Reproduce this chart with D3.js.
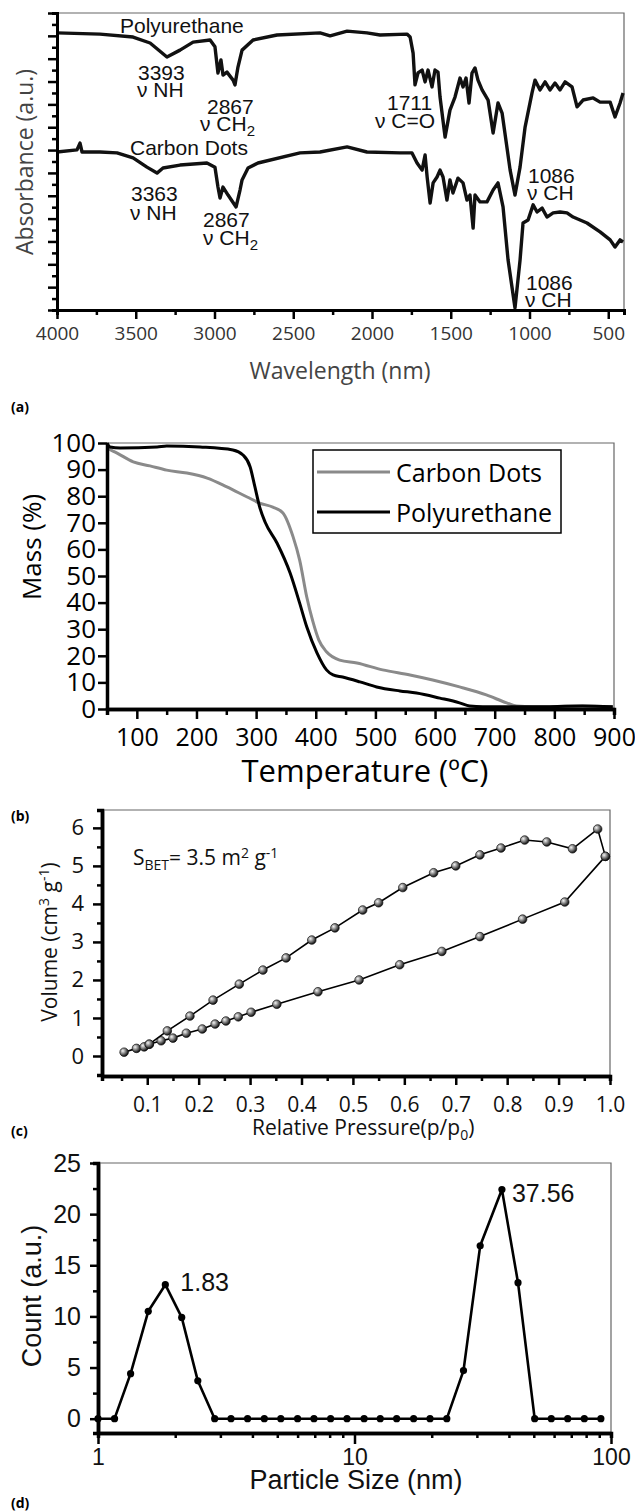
<!DOCTYPE html>
<html>
<head>
<meta charset="utf-8">
<script src="https://cdn.jsdelivr.net/npm/d3@7"></script>
<style>
  body { margin: 0; background: #fff; }
  svg { display: block; }
  .lib { font-family: "Liberation Sans", Arial, sans-serif; }
  .os { font-family: "Open Sans", "Noto Sans", sans-serif; }
</style>
</head>
<body>
<svg id="fig" width="635" height="1511"></svg>
<script>
// ---- (a) FTIR spectra: wavenumber vs absorbance (a.u., 0-100 of frame height)
var puWave = [4000,3727,3517,3409,3302,3219,3136,3028,2997,2978,2959,2946,2921,2882,2870,2851,2825,2755,2603,2330,2266,2158,2032,1949,1778,1758,1739,1727,1708,1682,1663,1644,1619,1600,1581,1568,1536,1505,1473,1441,1422,1403,1384,1365,1346,1327,1301,1263,1231,1200,1174,1123,1092,1060,1028,984,965,933,901,870,838,806,774,730,698,660,596,552,488,457,425,406];
var puAbs  = [93.3,92.9,91.9,89.9,85.2,87.5,90.2,90.9,88.6,79.8,84.2,79.1,80.1,77.4,75.8,81.8,87.5,90.9,92.6,93.3,92.3,93.9,93.3,92.6,92.9,91.9,86.5,75.8,79.8,80.8,76.8,80.8,75.1,80.8,80.1,71.7,58.2,67.3,71.7,78.1,75.1,78.1,69.7,79.8,81.5,77.4,74.1,70.7,59.6,69.7,66.3,47.1,38.7,48.1,61.6,73.1,77.4,74.1,76.8,74.1,76.4,74.1,76.8,75.1,68.4,70.7,71.4,70.0,70.0,65.0,69.7,73.1];
var cdWave = [4000,3873,3854,3841,3727,3619,3517,3429,3365,3327,3219,3048,2997,2978,2965,2946,2914,2863,2838,2825,2787,2724,2457,2330,2158,2032,1822,1746,1714,1682,1663,1650,1631,1612,1587,1568,1549,1524,1505,1486,1454,1422,1397,1378,1358,1346,1314,1270,1231,1200,1168,1136,1092,1060,1041,1009,977,952,920,889,850,806,762,723,635,552,488,457,425,406];
var cdAbs  = [53.2,53.9,56.2,53.2,53.2,52.9,51.2,48.1,46.1,47.8,48.8,49.5,48.1,41.4,37.7,41.4,38.7,34.7,40.4,43.8,47.8,49.5,52.9,53.2,54.9,53.2,52.9,52.9,49.5,47.1,52.2,44.8,36.0,42.8,44.8,47.1,44.8,37.0,43.8,39.4,44.4,42.8,37.0,38.7,27.6,38.7,36.4,36.4,40.4,42.8,34.7,16.8,0.7,16.8,29.3,30.3,35.4,33.0,34.3,31.3,32.7,33.0,32.7,31.3,29.3,26.3,23.6,21.2,23.6,22.9];
var ftirMajor = [4000,3500,3000,2500,2000,1500,1000,500];
var ftirMinor = [3750,3250,2750,2250,1750,1250,750];

// ---- (b) TGA: temperature (ºC) vs mass (%)
var tgaPuTemp = [50,55,72,134,150,206,261,278,290,298,306,315,335,357,373,385,402,418,429,445,474,502,541,569,608,641,658,680,764,847,898];
var tgaPuMass = [100,98.5,98.1,98.5,98.9,98.5,97.4,95.5,91.0,83.5,75.9,70.3,62.4,51.1,39.8,30.8,21.1,14.7,12.8,12.0,10.2,8.3,6.8,6.0,4.1,2.3,1.1,0.8,0.8,1.1,0.8];
var tgaCdTemp = [50,67,94,122,150,184,218,251,285,306,328,345,362,373,385,395,405,418,440,469,512,558,596,641,686,720,737,764,847,898];
var tgaCdMass = [98.1,96.2,92.9,91.4,89.8,88.7,86.8,83.5,79.7,77.4,75.9,73.7,64.7,56.0,42.0,33.0,26.0,21.5,18.4,17.3,14.7,12.8,10.9,8.3,5.3,2.3,1.1,0.8,1.1,0.8];

// ---- (c) N2 isotherm
var adsP = [0.055,0.079,0.094,0.104,0.127,0.150,0.176,0.207,0.232,0.253,0.277,0.302,0.352,0.432,0.512,0.591,0.673,0.747,0.830,0.912,0.991];
var adsV = [0.10,0.20,0.24,0.31,0.40,0.47,0.60,0.71,0.84,0.92,1.03,1.15,1.36,1.69,2.00,2.40,2.75,3.14,3.60,4.05,5.25];
var desP = [0.991,0.976,0.927,0.877,0.834,0.788,0.747,0.700,0.657,0.597,0.550,0.519,0.465,0.420,0.370,0.325,0.279,0.228,0.183,0.139,0.104];
var desV = [5.25,5.97,5.45,5.63,5.68,5.47,5.29,5.00,4.82,4.43,4.03,3.84,3.37,3.05,2.58,2.26,1.89,1.47,1.05,0.66,0.31];

// ---- (d) particle size distribution
var psdSize  = [1.00,1.16,1.34,1.57,1.83,2.12,2.45,2.85,3.30,3.83,4.45,5.16,6.00,6.95,8.07,9.35,10.9,12.6,14.6,17.0,19.7,22.9,26.6,30.9,37.56,43.4,50.4,58.5,67.8,78.7,91.3];
var psdCount = [0,0,4.4,10.5,13.1,9.9,3.7,0,0,0,0,0,0,0,0,0,0,0,0,0,0,0,4.7,16.9,22.4,13.3,0,0,0,0,0];

var svg = d3.select('#fig');

function zip(xs, ys){
    return xs.map(function(x, i){ return [x, ys[i]]; });
}

function styleAxis(g, domainW, tickW){
    g.select('.domain').attr('stroke', '#000').attr('stroke-width', domainW);
    g.selectAll('.tick line').attr('stroke', '#000').attr('stroke-width', tickW);
}

function frame(g, x0, y0, x1, y1){
    g.append('path')
        .attr('d', 'M' + x0 + ',' + y0 + 'H' + x1 + 'V' + y1)
        .attr('fill', 'none')
        .attr('stroke', '#666')
        .attr('stroke-width', 1.2);
}

// ===================== (a) =====================
(function(){
    var x = d3.scaleLinear().domain([4000, 400]).range([57, 624]);
    var y = d3.scaleLinear().domain([0, 100]).range([310, 13]);
    var g = svg.append('g');

    frame(g, 57, 13, 624, 310);

    var line = d3.line().x(function(d){ return x(d[0]); }).y(function(d){ return y(d[1]); });
    [zip(puWave, puAbs), zip(cdWave, cdAbs)].forEach(function(s){
        g.append('path').datum(s).attr('d', line)
            .attr('fill', 'none').attr('stroke', '#111')
            .attr('stroke-width', 3.4).attr('stroke-linejoin', 'round');
    });

    var yTicks = d3.range(0, 27).map(function(i){ return i * 100 / 26; });
    var gyMin = g.append('g').attr('transform', 'translate(57,0)')
        .call(d3.axisLeft(y).tickValues(yTicks.filter(function(d, i){ return i % 2; })).tickSize(5).tickFormat(''));
    styleAxis(gyMin, 3, 2.5);
    var gy = g.append('g').attr('transform', 'translate(57,0)')
        .call(d3.axisLeft(y).tickValues(yTicks.filter(function(d, i){ return !(i % 2); })).tickSize(9).tickSizeOuter(0).tickFormat(''));
    styleAxis(gy, 3, 2.5);

    var gxMin = g.append('g').attr('transform', 'translate(0,310)')
        .call(d3.axisBottom(x).tickValues(ftirMinor).tickSize(5).tickFormat(''));
    styleAxis(gxMin, 3, 2.5);
    var gx = g.append('g').attr('transform', 'translate(0,310)')
        .call(d3.axisBottom(x).tickValues(ftirMajor).tickSize(9).tickSizeOuter(0).tickPadding(8).tickFormat(d3.format('d')));
    styleAxis(gx, 3, 2.5);
    gx.selectAll('text').attr('class', 'os').attr('font-size', 19).attr('fill', '#333');

    g.append('text').attr('class', 'os').attr('x', 340).attr('y', 379)
        .attr('text-anchor', 'middle').attr('font-size', 23).attr('fill', '#444')
        .text('Wavelength (nm)');
    g.append('text').attr('class', 'os')
        .attr('transform', 'translate(33,162) rotate(-90)')
        .attr('text-anchor', 'middle').attr('font-size', 23).attr('fill', '#444')
        .text('Absorbance (a.u.)');

    var notes = [
        ['Polyurethane', 120, 33], ['3393', 138, 80], ['\u03bd NH', 137, 97],
        ['2867', 207, 114], ['\u03bd CH', 200, 131, '2'],
        ['Carbon Dots', 130, 155], ['3363', 131, 201], ['\u03bd NH', 130, 220],
        ['2867', 203, 227], ['\u03bd CH', 203, 245, '2'],
        ['1711', 387, 110], ['\u03bd C=O', 375, 128],
        ['1086', 528, 183], ['\u03bd CH', 527, 200],
        ['1086', 526, 290], ['\u03bd CH', 525, 307]
    ];
    notes.forEach(function(n){
        var t = g.append('text').attr('class', 'lib').attr('x', n[1]).attr('y', n[2])
            .attr('font-size', 21).attr('fill', '#111').text(n[0]);
        if (n[3]) t.append('tspan').attr('dy', 5).attr('font-size', 15).text(n[3]);
    });
})();

svg.append('text').attr('x', 11).attr('y', 412).attr('font-family', 'Open Sans')
    .attr('font-weight', 'bold').attr('font-size', 14).text('(a)');

// ===================== (b) =====================
(function(){
    var x = d3.scaleLinear().domain([50, 900]).range([107, 614]);
    var y = d3.scaleLinear().domain([0, 100]).range([709, 443]);
    var g = svg.append('g');

    frame(g, 107, 443, 614, 709);

    var line = d3.line().curve(d3.curveMonotoneX)
        .x(function(d){ return x(d[0]); }).y(function(d){ return y(d[1]); });
    g.append('path').datum(zip(tgaCdTemp, tgaCdMass)).attr('d', line)
        .attr('fill', 'none').attr('stroke', '#8a8a8a').attr('stroke-width', 3);
    g.append('path').datum(zip(tgaPuTemp, tgaPuMass)).attr('d', line)
        .attr('fill', 'none').attr('stroke', '#000').attr('stroke-width', 3);

    var gxMin = g.append('g').attr('transform', 'translate(0,709)')
        .call(d3.axisBottom(x).tickValues(d3.range(150, 900, 100)).tickSize(6).tickFormat(''));
    styleAxis(gxMin, 3.5, 2.5);
    var gx = g.append('g').attr('transform', 'translate(0,709)')
        .call(d3.axisBottom(x).tickValues(d3.range(100, 901, 100)).tickSize(10).tickSizeOuter(0).tickPadding(9));
    styleAxis(gx, 3.5, 2.5);
    gx.selectAll('text').attr('class', 'os').attr('font-size', 25).attr('fill', '#000');

    var gy = g.append('g').attr('transform', 'translate(107,0)')
        .call(d3.axisLeft(y).tickValues(d3.range(0, 101, 10)).tickSize(9).tickSizeOuter(0).tickPadding(2));
    styleAxis(gy, 3.5, 2.5);
    gy.selectAll('text').attr('class', 'os').attr('font-size', 26).attr('fill', '#000');

    g.append('text').attr('class', 'os').attr('x', 365).attr('y', 782)
        .attr('text-anchor', 'middle').attr('font-size', 31).text('Temperature (\u00baC)');
    g.append('text').attr('class', 'os')
        .attr('transform', 'translate(41,547) rotate(-90)')
        .attr('text-anchor', 'middle').attr('font-size', 26).text('Mass (%)');

    var lg = g.append('g');
    lg.append('rect').attr('x', 313).attr('y', 450).attr('width', 248).attr('height', 83)
        .attr('fill', '#fff').attr('stroke', '#000').attr('stroke-width', 1.5);
    [['Carbon Dots', '#8a8a8a', 472], ['Polyurethane', '#000', 512]].forEach(function(e){
        lg.append('line').attr('x1', 317).attr('x2', 390).attr('y1', e[2]).attr('y2', e[2])
            .attr('stroke', e[1]).attr('stroke-width', 3);
        lg.append('text').attr('class', 'os').attr('x', 396).attr('y', e[2] + 10)
            .attr('font-size', 25).text(e[0]);
    });
})();

svg.append('text').attr('x', 11).attr('y', 821).attr('font-family', 'Open Sans')
    .attr('font-weight', 'bold').attr('font-size', 14).text('(b)');

// ===================== (c) =====================
(function(){
    var x = d3.scaleLinear().domain([0.012, 1.0]).range([102, 610]);
    var y = d3.scaleLinear().domain([-0.5, 6.47]).range([1075, 810]);
    var g = svg.append('g');

    var defs = svg.append('defs');
    var grad = defs.append('radialGradient').attr('id', 'ball').attr('cx', '35%').attr('cy', '35%').attr('r', '65%');
    grad.append('stop').attr('offset', '0%').attr('stop-color', '#f4f4f4');
    grad.append('stop').attr('offset', '55%').attr('stop-color', '#777');
    grad.append('stop').attr('offset', '100%').attr('stop-color', '#111');

    frame(g, 102, 810, 610, 1075);

    var line = d3.line().x(function(d){ return x(d[0]); }).y(function(d){ return y(d[1]); });
    [zip(adsP, adsV), zip(desP, desV)].forEach(function(s){
        g.append('path').datum(s).attr('d', line)
            .attr('fill', 'none').attr('stroke', '#000').attr('stroke-width', 1.6);
        g.selectAll(null).data(s).enter().append('circle')
            .attr('cx', function(d){ return x(d[0]); })
            .attr('cy', function(d){ return y(d[1]); })
            .attr('r', 4.3).attr('fill', 'url(#ball)').attr('stroke', '#111').attr('stroke-width', 0.7);
    });

    var gxMin = g.append('g').attr('transform', 'translate(0,1076)')
        .call(d3.axisBottom(x).tickValues(d3.range(0.05, 1.0, 0.1)).tickSize(5).tickFormat(''));
    styleAxis(gxMin, 3.5, 2.5);
    var gx = g.append('g').attr('transform', 'translate(0,1076)')
        .call(d3.axisBottom(x).tickValues(d3.range(1, 11).map(function(i){ return i / 10; }))
            .tickSize(9).tickSizeOuter(0).tickPadding(12).tickFormat(d3.format('.1f')));
    styleAxis(gx, 3.5, 2.5);
    gx.selectAll('text').attr('class', 'os').attr('font-size', 21).attr('fill', '#111');

    var gyMin = g.append('g').attr('transform', 'translate(102,0)')
        .call(d3.axisLeft(y).tickValues(d3.range(0.5, 6, 1)).tickSize(5).tickFormat(''));
    styleAxis(gyMin, 3.5, 2.5);
    var gy = g.append('g').attr('transform', 'translate(102,0)')
        .call(d3.axisLeft(y).tickValues(d3.range(0, 7)).tickSize(9).tickSizeOuter(0).tickPadding(9).tickFormat(d3.format('d')));
    styleAxis(gy, 3.5, 2.5);
    gy.selectAll('text').attr('class', 'os').attr('font-size', 22).attr('fill', '#111');

    var xt = g.append('text').attr('class', 'os').attr('x', 252).attr('y', 1135)
        .attr('font-size', 21).attr('fill', '#111').text('Relative Pressure(p/p');
    xt.append('tspan').attr('dy', 5).attr('font-size', 14).text('0');
    xt.append('tspan').attr('dy', -5).text(')');

    var yt = g.append('text').attr('class', 'os')
        .attr('transform', 'translate(57,942) rotate(-90)')
        .attr('text-anchor', 'middle').attr('font-size', 21).attr('fill', '#111')
        .text('Volume (cm');
    yt.append('tspan').attr('dy', -8).attr('font-size', 14).text('3');
    yt.append('tspan').attr('dy', 8).text(' g');
    yt.append('tspan').attr('dy', -8).attr('font-size', 14).text('-1');
    yt.append('tspan').attr('dy', 8).text(')');

    var st = g.append('text').attr('class', 'os').attr('x', 133).attr('y', 865)
        .attr('font-size', 21).attr('fill', '#111').text('S');
    st.append('tspan').attr('dy', 5).attr('font-size', 14).text('BET');
    st.append('tspan').attr('dy', -5).text('= 3.5 m');
    st.append('tspan').attr('dy', -7).attr('font-size', 14).text('2');
    st.append('tspan').attr('dy', 7).text(' g');
    st.append('tspan').attr('dy', -7).attr('font-size', 14).text('-1');
})();

svg.append('text').attr('x', 11).attr('y', 1136).attr('font-family', 'Open Sans')
    .attr('font-weight', 'bold').attr('font-size', 14).text('(c)');

// ===================== (d) =====================
(function(){
    var x = d3.scaleLog().domain([1, 100]).range([98, 611]);
    var y = d3.scaleLinear().domain([-1.4, 25]).range([1433, 1163]);
    var g = svg.append('g');

    frame(g, 98, 1163, 611, 1433);

    var pts = zip(psdSize, psdCount);
    var line = d3.line().x(function(d){ return x(d[0]); }).y(function(d){ return y(d[1]); });
    g.append('path').datum(pts).attr('d', line)
        .attr('fill', 'none').attr('stroke', '#000').attr('stroke-width', 2.6).attr('stroke-linejoin', 'round');
    g.selectAll(null).data(pts).enter().append('circle')
        .attr('cx', function(d){ return x(d[0]); })
        .attr('cy', function(d){ return y(d[1]); })
        .attr('r', 3.6).attr('fill', '#000');

    var minorX = [2,3,4,5,6,7,8,9,20,30,40,50,60,70,80,90];
    var gxMin = g.append('g').attr('transform', 'translate(0,1433)')
        .call(d3.axisBottom(x).tickValues(minorX).tickSize(5).tickFormat(''));
    styleAxis(gxMin, 3.5, 2.5);
    var gx = g.append('g').attr('transform', 'translate(0,1433)')
        .call(d3.axisBottom(x).tickValues([1, 10, 100]).tickSize(11).tickSizeOuter(0).tickPadding(5).tickFormat(d3.format('d')));
    styleAxis(gx, 3.5, 2.5);
    gx.selectAll('text').attr('class', 'lib').attr('font-size', 23).attr('fill', '#111');

    var gyMin = g.append('g').attr('transform', 'translate(98,0)')
        .call(d3.axisLeft(y).tickValues(d3.range(2.5, 25, 5)).tickSize(5).tickFormat(''));
    styleAxis(gyMin, 3.5, 2.5);
    var gy = g.append('g').attr('transform', 'translate(98,0)')
        .call(d3.axisLeft(y).tickValues(d3.range(0, 26, 5)).tickSize(8).tickSizeOuter(0).tickPadding(9));
    styleAxis(gy, 3.5, 2.5);
    gy.selectAll('text').attr('class', 'lib').attr('font-size', 25).attr('fill', '#111');

    g.append('text').attr('class', 'lib').attr('x', 356).attr('y', 1489)
        .attr('text-anchor', 'middle').attr('font-size', 27).attr('fill', '#111').text('Particle Size (nm)');
    g.append('text').attr('class', 'lib')
        .attr('transform', 'translate(41,1296) rotate(-90)')
        .attr('text-anchor', 'middle').attr('font-size', 27).attr('fill', '#111').text('Count (a.u.)');

    g.append('text').attr('class', 'lib').attr('x', x(1.83) + 15).attr('y', 1291)
        .attr('font-size', 25).attr('fill', '#111').text('1.83');
    g.append('text').attr('class', 'lib').attr('x', x(37.56) + 10).attr('y', 1202)
        .attr('font-size', 25).attr('fill', '#111').text('37.56');
})();

svg.append('text').attr('x', 11).attr('y', 1508).attr('font-family', 'Open Sans')
    .attr('font-weight', 'bold').attr('font-size', 14).text('(d)');
</script>
</body>
</html>
